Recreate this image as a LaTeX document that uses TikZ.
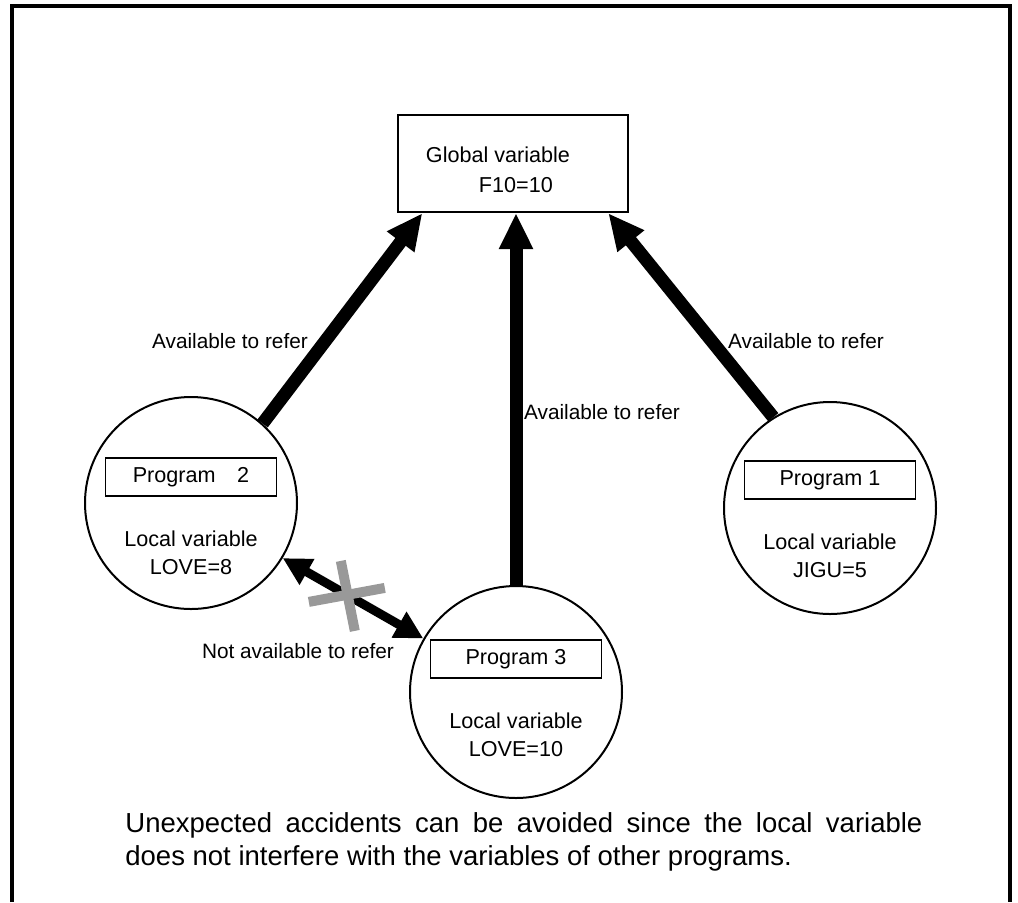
\documentclass[tikz,border=0pt]{standalone}
\usepackage{fontspec}
\setmainfont{Liberation Sans}
\usetikzlibrary{arrows.meta,calc}

\begin{document}
\begin{tikzpicture}[x=.5pt,y=-.5pt,
  every node/.style={font=\fontsize{10.8}{14}\selectfont},
  prog/.style={draw,circle,line width=1pt,minimum size=106pt,inner sep=0pt},
  pbox/.style={draw,line width=.7pt,minimum width=85.5pt,minimum height=19pt,inner sep=0pt},
  refer/.style={line width=6.5pt,-{Triangle[length=18pt,width=16pt]}},
  noref/.style={line width=4.5pt,{Triangle[length=14pt,width=14pt]}-{Triangle[length=14pt,width=14pt]}},
  cross/.style={line width=5pt,draw=black!40},
  lbl/.style={font=\fontsize{10.4}{13}\selectfont}]
\useasboundingbox (0,0) rectangle (1018,902);
\draw[line width=2pt] (12,902) -- (12,6) -- (1010,6) -- (1010,902);
\node[draw,line width=1.2pt,minimum width=115pt,minimum height=48.5pt] (global) at (513,163.5) {};
\node[align=left,font=\fontsize{10.8}{15}\selectfont] (globaltxt) at (498,170) {Global variable\\\hspace*{26.5pt}F10=10};
\foreach \n/\cx/\cy/\by/\ly/\pname/\val in {1/830/508/480/556/Program 1/JIGU=5, 2/191/503/477/553/Program\quad 2/LOVE=8, 3/516/692/659/735/Program 3/LOVE=10}{
\node[prog] (prog\n) at (\cx,\cy) {};
\node[pbox] (box\n) at (\cx,\by) {\pname};
\node[align=center] (local\n) at (\cx,\ly) {Local variable\\\val};
}
\draw[refer] (prog2.48) -- ($(global.south west)!.11!(global.south east)$);
\draw[refer] (prog3.north) -- (prog3.north |- global.south);
\draw[refer] (prog1.122) -- ($(global.south west)!.91!(global.south east)$);
\draw[noref] (prog2.-31) -- coordinate[pos=.47] (nx) (prog3.150);
\draw[cross] (nx) ++(-40,6) -- ++(76,-14);
\draw[cross] (nx) ++(-8,-35) -- ++(14,70);
\node[lbl] (lblleft) at (230,341) {Available to refer};
\node[lbl] (lblmid) at (602,412) {Available to refer};
\node[lbl] (lblright) at (806,341) {Available to refer};
\node[lbl] (lblnot) at (298,651) {Not available to refer};
\node[anchor=north west,align=left,inner sep=0pt,font=\fontsize{13.75}{16.5}\selectfont] (note) at (125,812)
  {\makebox[398.5pt][s]{Unexpected accidents can be avoided since the local variable}\\does not interfere with the variables of other programs.};
\end{tikzpicture}
\end{document}
